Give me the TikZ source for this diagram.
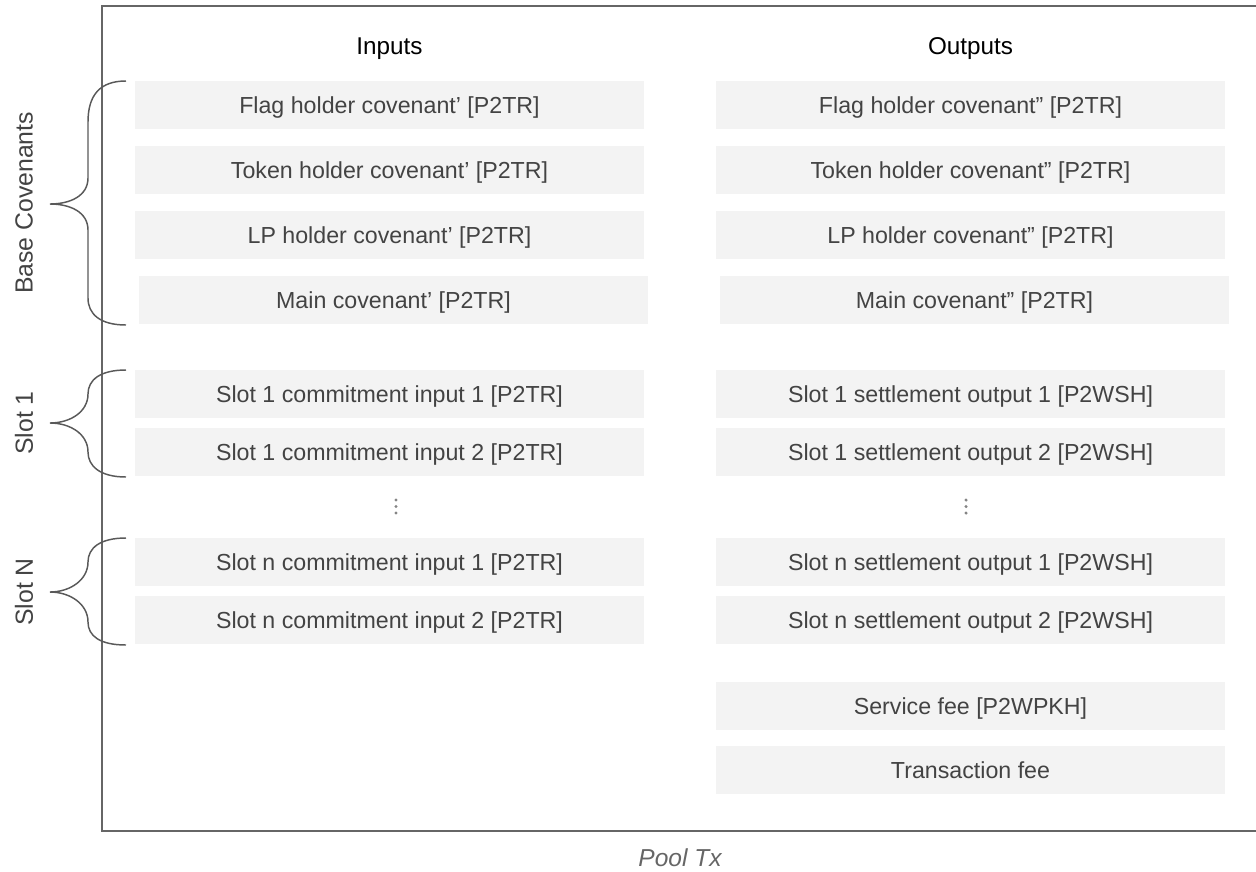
\documentclass[tikz,border=0pt]{standalone}
\usepackage{fontspec}
\setmainfont{Liberation Sans}

\definecolor{cellfill}{RGB}{243,243,243}
\definecolor{celltext}{RGB}{67,67,67}
\definecolor{framegray}{RGB}{102,102,102}
\definecolor{bracegray}{RGB}{89,89,89}

\tikzset{every picture/.style={line width=0.75pt}}
\tikzset{
  cell/.style={fill=cellfill, draw=none, minimum width=381.75pt, minimum height=36pt, inner sep=0.75pt, text height=12.5pt, text depth=0pt, text=celltext, font=\fontsize{17.4}{20}\selectfont},
  colhead/.style={inner sep=0.75pt, text height=13pt, text depth=0pt, text=black, font=\fontsize{18.2}{21}\selectfont},
  sidelabel/.style={inner sep=0.75pt, rotate=90, text=celltext, font=\fontsize{18.6}{21}\selectfont},
  curly/.style={draw=bracegray, line width=1.1pt},
  dotmark/.style={circle, fill=framegray!80, inner sep=0pt, minimum size=2.6pt}
}

\begin{document}
\begin{tikzpicture}[x=0.75pt,y=0.75pt,yscale=-1,xscale=1]
		\useasboundingbox (0,0) rectangle (1256,871);

		%Shape: Frame
		\draw [color=framegray, line width=1.5pt] (1256,6) -- (101.5,6) -- (101.5,831) -- (1256,831) ;

		% Column heads
		\node [colhead] (hin) at (389.5,46) {Inputs};
		\node [colhead] (hout) at (970.5,46) {Outputs};

		% Inputs
		\node [cell] (in1) at (389.5,105) {Flag holder covenant' [P2TR]};
		\node [cell] (in2) at (389.5,170) {Token holder covenant' [P2TR]};
		\node [cell] (in3) at (389.5,235) {LP holder covenant' [P2TR]};
		\node [cell] (in4) at (393.5,300) {Main covenant' [P2TR]};
		\node [cell] (in5) at (389.5,394) {Slot 1 commitment input 1 [P2TR]};
		\node [cell] (in6) at (389.5,452) {Slot 1 commitment input 2 [P2TR]};
		\node [cell] (in7) at (389.5,562) {Slot n commitment input 1 [P2TR]};
		\node [cell] (in8) at (389.5,620) {Slot n commitment input 2 [P2TR]};

		% Outputs
		\node [cell] (out1) at (970.5,105) {Flag holder covenant'' [P2TR]};
		\node [cell] (out2) at (970.5,170) {Token holder covenant'' [P2TR]};
		\node [cell] (out3) at (970.5,235) {LP holder covenant'' [P2TR]};
		\node [cell] (out4) at (974.5,300) {Main covenant'' [P2TR]};
		\node [cell] (out5) at (970.5,394) {Slot 1 settlement output 1 [P2WSH]};
		\node [cell] (out6) at (970.5,452) {Slot 1 settlement output 2 [P2WSH]};
		\node [cell] (out7) at (970.5,562) {Slot n settlement output 1 [P2WSH]};
		\node [cell] (out8) at (970.5,620) {Slot n settlement output 2 [P2WSH]};
		\node [cell] (out9) at (970.5,706) {Service fee [P2WPKH]};
		\node [cell] (out10) at (970.5,770) {Transaction fee};

		% Vertical dots
		\foreach \cx in {396,966} {
			\foreach \cy in {500,506.5,513} {
				\node [dotmark] at (\cx,\cy) {};
			}
		}

		%Shape: Brace (base covenants)
		\draw [curly] (126,81) .. controls (100,81) and (88,95) .. (88,122) -- (88,178) .. controls (88,196) and (70,204) .. (50,204) .. controls (70,204) and (88,212) .. (88,230) -- (88,298) .. controls (88,314) and (100,325) .. (126,325) ;
		%Shape: Brace (slot 1)
		\draw [curly] (126,370) .. controls (100,370) and (88,380) .. (88,394) .. controls (88,412) and (70,423) .. (50,423) .. controls (70,423) and (88,434) .. (88,452) .. controls (88,466) and (100,477) .. (126,477) ;
		%Shape: Brace (slot N)
		\draw [curly] (126,538) .. controls (100,538) and (88,548) .. (88,562) .. controls (88,580) and (70,592) .. (50,592) .. controls (70,592) and (88,604) .. (88,622) .. controls (88,636) and (100,645) .. (126,645) ;

		% Side labels
		\node [sidelabel] (lbase) at (24,203) {Base Covenants};
		\node [sidelabel] (lslot1) at (24,423) {Slot 1};
		\node [sidelabel] (lslotn) at (24,592) {Slot N};

		% Caption
		\node [inner sep=0.75pt, text=framegray, font=\fontsize{18.4}{21}\selectfont\itshape] (cap) at (680,858) {Pool Tx};

	\end{tikzpicture}
\end{document}
